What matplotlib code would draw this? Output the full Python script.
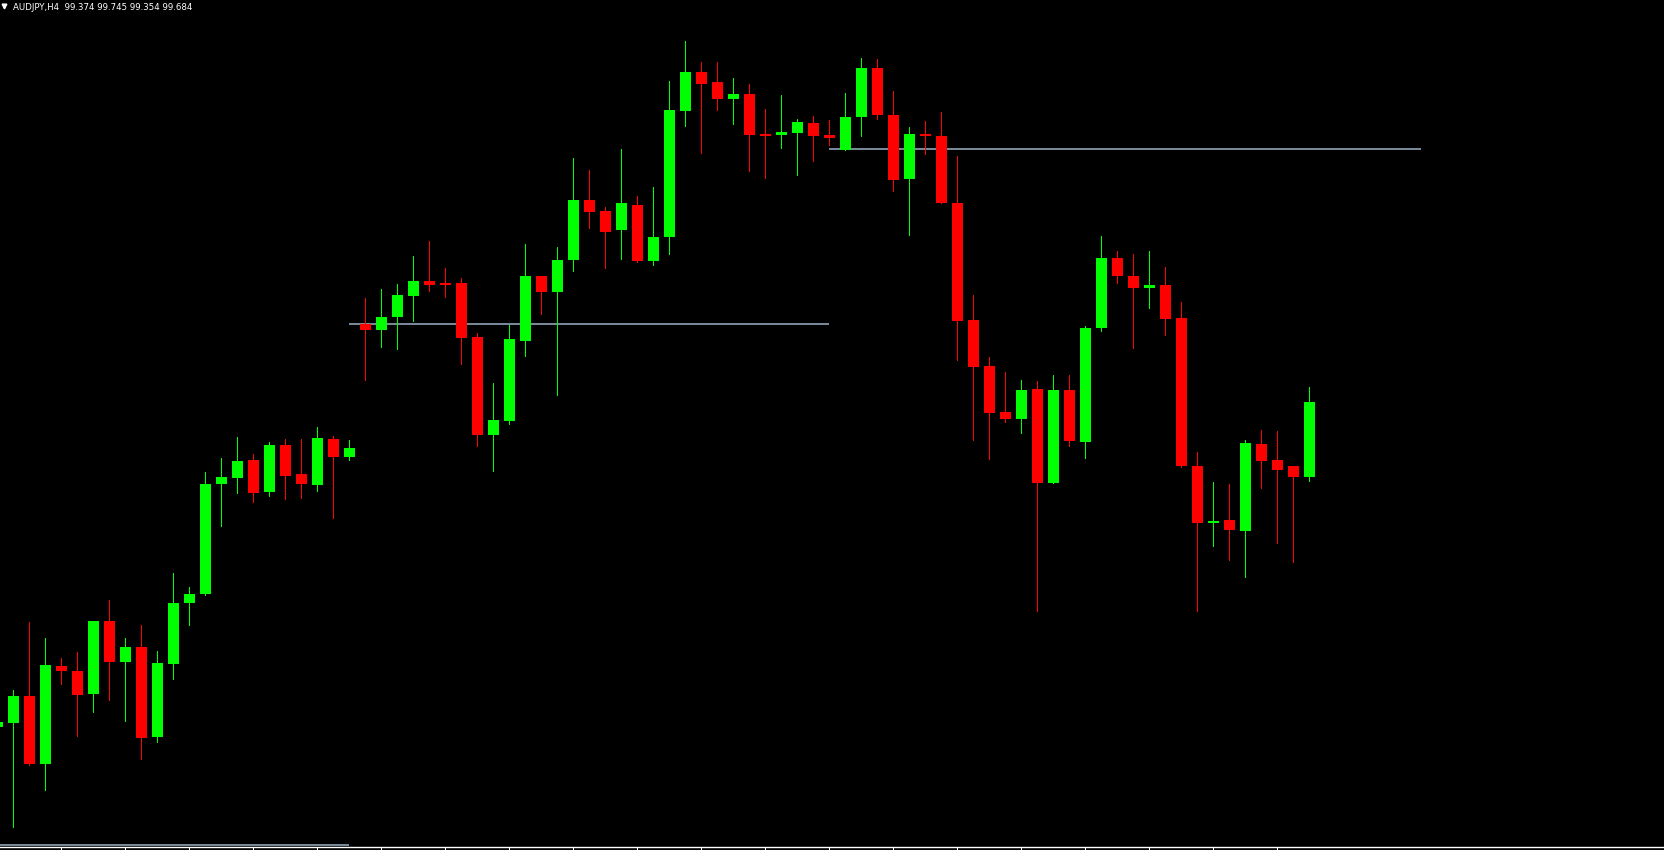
import numpy as np
import matplotlib
matplotlib.use("Agg")
import matplotlib.pyplot as plt
from matplotlib.lines import Line2D

# -------------------------
# data: AUDJPY H4 candles (first one is cut off at the left edge)
# -------------------------
opens = [98.336, 98.353, 98.464, 98.183, 98.588, 98.567, 98.473, 98.775, 98.606, 98.667,
         98.295, 98.598, 98.851, 98.888, 99.345, 99.370, 99.443, 99.311, 99.505, 99.385,
         99.341, 99.530, 99.457, 100.007, 99.984, 100.038, 100.125, 100.186, 100.175, 100.178,
         99.953, 99.548, 99.606, 99.938, 100.207, 100.141, 100.274, 100.522, 100.476, 100.399,
         100.501, 100.270, 100.370, 100.893, 101.053, 101.012, 100.942, 100.962, 100.796, 100.793,
         100.801, 100.842, 100.792, 100.731, 100.868, 101.070, 100.875, 100.610, 100.796, 100.788,
         100.510, 100.024, 99.833, 99.642, 99.614, 99.738, 99.349, 99.734, 99.519, 99.992,
         100.281, 100.207, 100.158, 100.169, 100.032, 99.418, 99.183, 99.194, 99.150, 99.509,
         99.443, 99.418, 99.374]
highs = [98.356, 98.489, 98.771, 98.704, 98.621, 98.646, 98.775, 98.862, 98.704, 98.758,
         98.650, 98.974, 98.916, 99.393, 99.451, 99.538, 99.468, 99.518, 99.530, 99.530,
         99.580, 99.543, 99.526, 100.115, 100.153, 100.173, 100.290, 100.352, 100.240, 100.198,
         99.970, 99.763, 100.003, 100.339, 100.207, 100.327, 100.696, 100.647, 100.493, 100.734,
         100.539, 100.576, 101.016, 101.182, 101.095, 101.095, 101.028, 101.003, 100.900, 100.958,
         100.858, 100.871, 100.854, 100.966, 101.111, 101.107, 100.974, 100.825, 100.850, 100.887,
         100.705, 100.128, 99.870, 99.808, 99.775, 99.771, 99.796, 99.796, 99.999, 100.373,
         100.310, 100.298, 100.310, 100.244, 100.099, 99.476, 99.352, 99.343, 99.526, 99.568,
         99.563, 99.418, 99.745]
lows = [98.336, 97.921, 98.179, 98.075, 98.515, 98.299, 98.398, 98.448, 98.361, 98.203,
        98.274, 98.535, 98.760, 98.884, 99.170, 99.307, 99.270, 99.295, 99.282, 99.287,
        99.316, 99.204, 99.444, 99.776, 99.913, 99.905, 100.021, 100.146, 100.121, 99.843,
        99.502, 99.399, 99.594, 99.876, 100.050, 99.714, 100.229, 100.407, 100.241, 100.278,
        100.266, 100.254, 100.299, 100.830, 100.718, 100.897, 100.839, 100.644, 100.615, 100.739,
        100.627, 100.685, 100.752, 100.731, 100.789, 100.859, 100.561, 100.378, 100.714, 100.511,
        99.859, 99.527, 99.448, 99.602, 99.556, 98.818, 99.349, 99.502, 99.453, 99.980,
        100.179, 99.909, 100.075, 99.963, 99.415, 98.818, 99.087, 99.029, 98.959, 99.328,
        99.100, 99.021, 99.354]
closes = [98.356, 98.464, 98.183, 98.592, 98.569, 98.469, 98.775, 98.606, 98.667, 98.291,
          98.601, 98.850, 98.887, 99.343, 99.372, 99.439, 99.307, 99.505, 99.378, 99.345,
          99.534, 99.457, 99.493, 99.984, 100.036, 100.128, 100.186, 100.171, 100.171, 99.951,
          99.548, 99.609, 99.945, 100.207, 100.141, 100.273, 100.522, 100.473, 100.390, 100.510,
          100.270, 100.368, 100.896, 101.053, 101.005, 100.941, 100.962, 100.793, 100.789, 100.804,
          100.846, 100.789, 100.781, 100.866, 101.070, 100.876, 100.606, 100.796, 100.789, 100.511,
          100.020, 99.830, 99.639, 99.614, 99.734, 99.349, 99.734, 99.523, 99.991, 100.281,
          100.208, 100.158, 100.169, 100.029, 99.419, 99.183, 99.190, 99.154, 99.514, 99.440,
          99.403, 99.374, 99.684]

# level lines: (start bar, end bar, price)
level_start = [-2, 21, 51]
level_end = [21, 51, 88]
level_price = [97.845, 100.009, 100.734]

title = "AUDJPY,H4  99.374 99.745 99.354 99.684"

# -------------------------
# figure
# -------------------------
W, H = 1665, 850
fig = plt.figure(figsize=(W / 100, H / 100), dpi=100, facecolor="black")
ax = fig.add_axes([0, 3 / H, 1, 1 - 3 / H])
ax.set_facecolor("black")

bars = np.arange(-1, len(opens) - 1)
o = np.array(opens)
h = np.array(highs)
l = np.array(lows)
c = np.array(closes)
up = c > o
colors = np.where(up, "#00ff00", "#ff0000")

# wicks then bodies
ax.vlines(bars, l, h, colors=colors, linewidth=0.7, antialiased=False, zorder=2)
body_h = np.maximum(np.abs(c - o), 0.005)
ax.bar(bars, body_h, bottom=np.minimum(o, c), width=0.6875,
       color=colors, linewidth=0, antialiased=False, zorder=3)

for s, e, p in zip(level_start, level_end, level_price):
    ax.hlines(p, s, e, colors="#778899", linewidth=1.44, zorder=1)

ax.set_xlim(-13.5 / 16, (W - 13.5) / 16)
ax.set_ylim(101.352 - 847 * 0.00415, 101.352)

for side in ["top", "left", "right"]:
    ax.spines[side].set_visible(False)
ax.spines["bottom"].set_color("white")
ax.spines["bottom"].set_linewidth(1.0)
ax.set_xticks(np.arange(3, 80, 4))
ax.set_yticks([])
ax.tick_params(axis="x", direction="out", length=2.5, width=0.75,
               color="white", labelbottom=False)

# small menu triangle + symbol / OHLC header
fig.add_artist(Line2D([4 / W], [1 - 5.5 / H], marker="v", markersize=3.4,
                      color="white", linestyle="none", transform=fig.transFigure))
fig.text(12.7 / W, 1 - 9.8 / H, title, color="white", fontsize=6.2,
         ha="left", va="baseline", family="DejaVu Sans")

fig.savefig("out.png", dpi=100, facecolor="black")
